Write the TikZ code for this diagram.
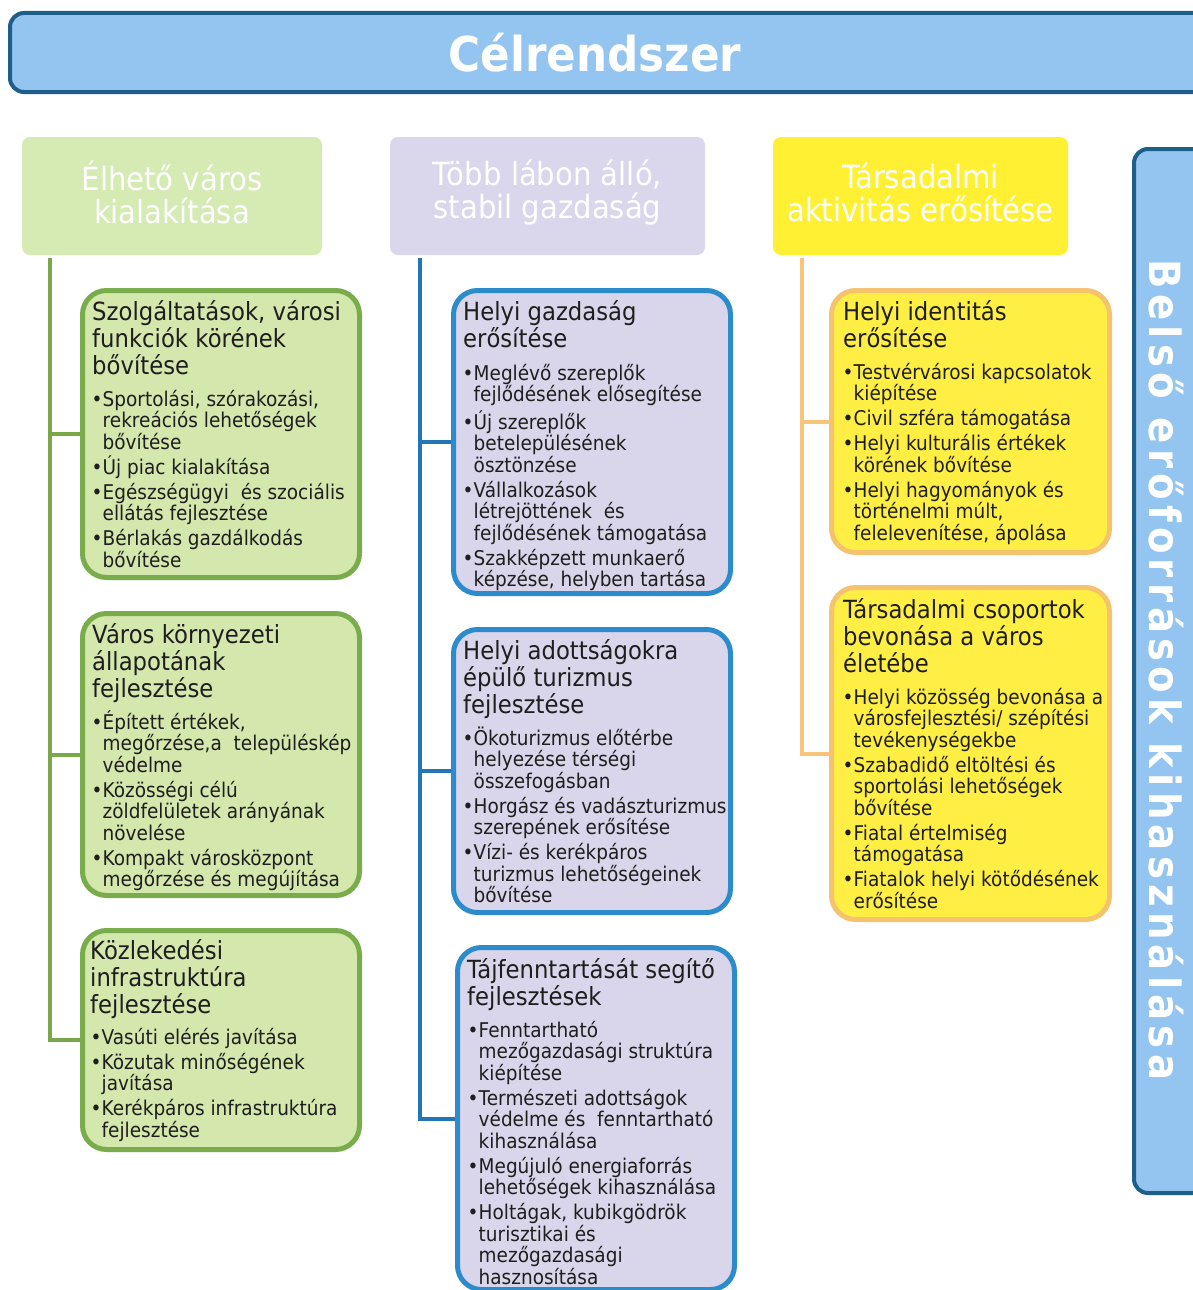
\documentclass[tikz,border=0pt]{standalone}
\usepackage{fontspec}
\setmainfont{DejaVu Sans}[FakeStretch=0.91]
\newfontfamily\vfont{DejaVu Sans}[FakeStretch=0.9,LetterSpace=12]
\usetikzlibrary{calc}
\definecolor{bannerfill}{HTML}{93C5F0}
\definecolor{bannerline}{HTML}{1D5F88}
\definecolor{ghead}{HTML}{D6EAB3}
\definecolor{gfill}{HTML}{D4E7AC}
\definecolor{gline}{HTML}{79AC4B}
\definecolor{gtrunk}{HTML}{78A84A}
\definecolor{bhead}{HTML}{DAD6EC}
\definecolor{bfill}{HTML}{D9D5EA}
\definecolor{bline}{HTML}{2C8BCB}
\definecolor{btrunk}{HTML}{2475B5}
\definecolor{yhead}{HTML}{FFF033}
\definecolor{yfill}{HTML}{FFEF45}
\definecolor{yline}{HTML}{F5C26E}
\definecolor{ytrunk}{HTML}{F7C47A}
\definecolor{txt}{HTML}{1E1E1E}
\newcommand\bu{\makebox[9.5pt][l]{\kern-1.5pt•}}
\newcommand\ii{\hspace*{9.5pt}}
\begin{document}
\begin{tikzpicture}[x=1pt,y=-1pt,
  banner/.style={draw=bannerline,line width=4pt,fill=bannerfill,rounded corners=14pt,inner sep=0},
  hdr/.style={rounded corners=8pt,inner sep=0,minimum height=118pt},
  hdrtxt/.style={text=white,align=center,inner sep=0,font=\fontsize{32}{33}\selectfont},
  gbox/.style={draw=gline,line width=5pt,fill=gfill,rounded corners=24pt,inner sep=0,minimum width=277pt},
  bbox/.style={draw=bline,line width=5pt,fill=bfill,rounded corners=24pt,inner sep=0,minimum width=277pt},
  ybox/.style={draw=yline,line width=5pt,fill=yfill,rounded corners=24pt,inner sep=0,minimum width=278pt},
  gtr/.style={draw=gtrunk,line width=4pt},
  btr/.style={draw=btrunk,line width=4pt},
  ytr/.style={draw=ytrunk,line width=4pt},
  ttl/.style={anchor=north west,inner sep=0,align=left,text=txt,font=\fontsize{25}{27}\selectfont},
  bul/.style={anchor=north west,inner sep=0,align=left,text=txt,font=\fontsize{20.3}{21.5}\selectfont}]
\useasboundingbox (0,0) rectangle (1192,1290);
\fill[white] (0,0) rectangle (1192,1290);

% top banner
\node[banner,minimum width=1200pt,minimum height=79pt] (top) at (610,52.5) {};
\node[text=white,inner sep=0,font=\fontsize{48}{50}\selectfont\bfseries] (toptxt) at (595,53) {Célrendszer};

% right banner
\node[banner,minimum width=81pt,minimum height=1044pt] (rb) at (1174.5,671) {};
\node[text=white,inner sep=0,rotate=-90,font=\vfont\fontsize{43}{45}\selectfont\bfseries] (rbtxt) at (1166,670) {Belső erőforrások kihasználása};

% headers
\node[hdr,fill=ghead,minimum width=300pt] (gh) at (172,196) {};
\node[hdr,fill=bhead,minimum width=315pt] (bh) at (547.5,196) {};
\node[hdr,fill=yhead,minimum width=295pt] (yh) at (920.5,196) {};
\node[hdrtxt] (ght) at (172,192) {Élhető város\\kialakítása};
\node[hdrtxt] (bht) at (547.5,193) {Több lábon álló,\\stabil gazdaság};
\node[hdrtxt] (yht) at (920.5,192) {Társadalmi\\aktivitás erősítése};

% boxes
\node[gbox,minimum height=287pt] (g1) at (221,434) {};
\node[gbox,minimum height=282pt] (g2) at (221,754.5) {};
\node[gbox,minimum height=219pt] (g3) at (221,1040) {};
\node[bbox,minimum height=303pt] (b1) at (592,442) {};
\node[bbox,minimum height=283pt] (b2) at (592,771) {};
\node[bbox,minimum height=342pt] (b3) at (596,1118.5) {};
\node[ybox,minimum height=262pt] (y1) at (970.5,421.5) {};
\node[ybox,minimum height=332pt] (y2) at (970.5,753.5) {};

% connectors
\coordinate (gt) at ([xshift=28pt,yshift=-3pt]gh.south west);
\coordinate (bt) at ([xshift=30pt,yshift=-3pt]bh.south west);
\coordinate (yt) at ([xshift=29pt,yshift=-3pt]yh.south west);
\draw[gtr] (gt) |- (g3.west);
\draw[gtr] (gt |- g1.west) -- (g1.west);
\draw[gtr] (gt |- g2.west) -- (g2.west);
\draw[btr] (bt) |- (b3.west);
\draw[btr] (bt |- b1.west) -- (b1.west);
\draw[btr] (bt |- b2.west) -- (b2.west);
\draw[ytr] (yt) |- (y2.west);
\draw[ytr] (yt |- y1.west) -- (y1.west);

% green texts
\node[ttl] (g1t) at (92,295) {\rule{0pt}{25pt}Szolgáltatások, városi\\funkciók körének\\bővítése};
\node[bul] (g1b) at (93,386) {\rule{0pt}{20pt}\bu Sportolási, szórakozási,\\ \ii rekreációs lehetőségek\\ \ii bővítése\\[3.5pt]
 \bu Új piac kialakítása\\[3.5pt]
 \bu Egészségügyi~ és szociális\\ \ii ellátás fejlesztése\\[3.5pt]
 \bu Bérlakás gazdálkodás\\ \ii bővítése};

\node[ttl] (g2t) at (92,618) {\rule{0pt}{25pt}Város környezeti\\állapotának\\fejlesztése};
\node[bul] (g2b) at (93,709) {\rule{0pt}{20pt}\bu Épített értékek,\\ \ii megőrzése,a~ településkép\\ \ii védelme\\[3.5pt]
 \bu Közösségi célú\\ \ii zöldfelületek arányának\\ \ii növelése\\[3.5pt]
 \bu Kompakt városközpont\\ \ii megőrzése és megújítása};

\node[ttl] (g3t) at (90,934) {\rule{0pt}{25pt}Közlekedési\\infrastruktúra\\fejlesztése};
\node[bul] (g3b) at (92,1024) {\rule{0pt}{20pt}\bu Vasúti elérés javítása\\[3.5pt]
 \bu Közutak minőségének\\ \ii javítása\\[3.5pt]
 \bu Kerékpáros infrastruktúra\\ \ii fejlesztése};

% blue texts
\node[ttl] (b1t) at (463,295) {\rule{0pt}{25pt}Helyi gazdaság\\erősítése};
\node[bul] (b1b) at (464,360) {\rule{0pt}{20pt}\bu Meglévő szereplők\\ \ii fejlődésének elősegítése\\[3.5pt]
 \bu Új szereplők\\ \ii betelepülésének\\ \ii ösztönzése\\[3.5pt]
 \bu Vállalkozások\\ \ii létrejöttének~ és\\ \ii fejlődésének támogatása\\[3.5pt]
 \bu Szakképzett munkaerő\\ \ii képzése, helyben tartása};

\node[ttl] (b2t) at (463,634) {\rule{0pt}{25pt}Helyi adottságokra\\épülő turizmus\\fejlesztése};
\node[bul] (b2b) at (464,725) {\rule{0pt}{20pt}\bu Ökoturizmus előtérbe\\ \ii helyezése térségi\\ \ii összefogásban\\[3.5pt]
 \bu Horgász és vadászturizmus\\ \ii szerepének erősítése\\[3.5pt]
 \bu Vízi- és kerékpáros\\ \ii turizmus lehetőségeinek\\ \ii bővítése};

\node[ttl] (b3t) at (467,953) {\rule{0pt}{25pt}Tájfenntartását segítő\\fejlesztések};
\node[bul] (b3b) at (469,1017) {\rule{0pt}{20pt}\bu Fenntartható\\ \ii mezőgazdasági struktúra\\ \ii kiépítése\\[3.5pt]
 \bu Természeti adottságok\\ \ii védelme és~ fenntartható\\ \ii kihasználása\\[3.5pt]
 \bu Megújuló energiaforrás\\ \ii lehetőségek kihasználása\\[3.5pt]
 \bu Holtágak, kubikgödrök\\ \ii turisztikai és\\ \ii mezőgazdasági\\ \ii hasznosítása};

% yellow texts
\node[ttl] (y1t) at (843,295) {\rule{0pt}{25pt}Helyi identitás\\erősítése};
\node[bul] (y1b) at (844,359) {\rule{0pt}{20pt}\bu Testvérvárosi kapcsolatok\\ \ii kiépítése\\[3.5pt]
 \bu Civil szféra támogatása\\[3.5pt]
 \bu Helyi kulturális értékek\\ \ii körének bővítése\\[3.5pt]
 \bu Helyi hagyományok és\\ \ii történelmi múlt,\\ \ii felelevenítése, ápolása};

\node[ttl] (y2t) at (843,593) {\rule{0pt}{25pt}Társadalmi csoportok\\bevonása a város\\életébe};
\node[bul] (y2b) at (844,684) {\rule{0pt}{20pt}\bu Helyi közösség bevonása a\\ \ii városfejlesztési/ szépítési\\ \ii tevékenységekbe\\[3.5pt]
 \bu Szabadidő eltöltési és\\ \ii sportolási lehetőségek\\ \ii bővítése\\[3.5pt]
 \bu Fiatal értelmiség\\ \ii támogatása\\[3.5pt]
 \bu Fiatalok helyi kötődésének\\ \ii erősítése};
\end{tikzpicture}
\end{document}
